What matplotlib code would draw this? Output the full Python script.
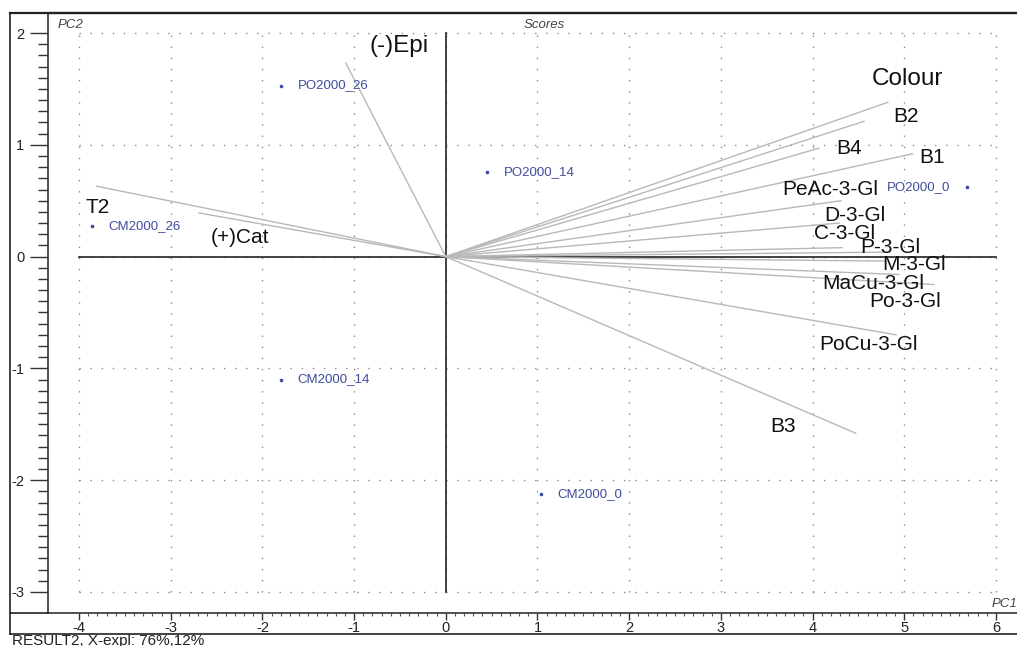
import matplotlib
matplotlib.use("Agg")
import matplotlib.pyplot as plt
from matplotlib.lines import Line2D
import numpy as np

plt.rcParams["font.family"] = ["Liberation Sans", "DejaVu Sans"]
plt.rcParams["axes.unicode_minus"] = False

# sample scores (PC1, PC2)
samples = ["PO2000_26", "PO2000_14", "PO2000_0", "CM2000_26", "CM2000_14", "CM2000_0"]
score_pc1 = [-1.80, 0.45, 5.68, -3.86, -1.80, 1.04]
score_pc2 = [1.53, 0.76, 0.62, 0.27, -1.10, -2.12]

# variable loadings, scaled to the score plane
variables = ["Colour", "B2", "B4", "B1", "PeAc-3-Gl", "D-3-Gl", "C-3-Gl", "P-3-Gl",
             "M-3-Gl", "MaCu-3-Gl", "Po-3-Gl", "PoCu-3-Gl", "B3",
             "(-)Epi", "T2", "(+)Cat"]
load_pc1 = [4.82, 4.56, 4.07, 5.09, 4.31, 4.29, 4.32, 4.80,
            4.80, 5.32, 4.94, 4.91, 4.47, -1.09, -3.81, -2.69]
load_pc2 = [1.38, 1.21, 0.97, 0.92, 0.50, 0.30, 0.08, 0.04,
            -0.04, -0.25, -0.16, -0.70, -1.58, 1.73, 0.63, 0.39]
# where each variable name sits
label_x = [5.03, 5.02, 4.40, 5.30, 4.19, 4.46, 4.35, 4.85,
           5.11, 4.66, 5.01, 4.61, 3.68, -0.51, -3.80, -2.24]
label_y = [1.59, 1.25, 0.97, 0.89, 0.60, 0.37, 0.21, 0.08,
           -0.07, -0.24, -0.40, -0.79, -1.52, 1.88, 0.44, 0.17]
big_labels = {"Colour", "(-)Epi"}

xticks = [-4, -3, -2, -1, 0, 1, 2, 3, 4, 5, 6]
yticks = [-3, -2, -1, 0, 1, 2]

fig = plt.figure(figsize=(10.17, 6.46), dpi=100)
W, H = 1017, 646
ax = fig.add_axes([48 / W, (H - 613) / H, (W - 48) / W, 600 / H])
ax.set_xlim(-4.338, 6.229)
ax.set_ylim(-3.188, 2.179)

ax.spines["right"].set_visible(False)
for s in ["left", "top", "bottom"]:
    ax.spines[s].set_color("#333333")
    ax.spines[s].set_linewidth(1.2)
ax.spines["top"].set_linewidth(1.6)

# dotted grid inside the tick range only
dots = (0, (1, 7))
ax.vlines(xticks, yticks[0], yticks[-1], colors="#8a8a8a", linestyles=[dots], linewidth=1)
ax.hlines(yticks, xticks[0], xticks[-1], colors="#8a8a8a", linestyles=[dots], linewidth=1)

# zero axes
ax.plot([xticks[0], xticks[-1]], [0, 0], color="#333333", lw=1.3)
ax.plot([0, 0], [yticks[0], yticks[-1]], color="#333333", lw=1.3)

# loading vectors
for vx, vy in zip(load_pc1, load_pc2):
    ax.plot([0, vx], [0, vy], color="#b8b8b8", lw=1.0)
for name, lx, ly in zip(variables, label_x, label_y):
    ax.text(lx, ly, name, fontsize=17.5 if name in big_labels else 15,
            color="#111111", ha="center", va="center")

# sample scores
blue = "#3f4c9e"
ax.scatter(score_pc1, score_pc2, s=2.5, color=blue, zorder=5)
for name, sx, sy in zip(samples, score_pc1, score_pc2):
    if sx > 5:
        ax.annotate(name, (sx, sy), xytext=(-12, 0), textcoords="offset points",
                    ha="right", va="center", fontsize=9.5, color=blue)
    else:
        ax.annotate(name, (sx, sy), xytext=(12, 0), textcoords="offset points",
                    ha="left", va="center", fontsize=9.5, color=blue)

# ticks
ax.set_xticks(xticks)
ax.set_yticks(yticks)
ax.set_xticks(np.round(np.arange(xticks[0], xticks[-1] + 0.01, 0.1), 2), minor=True)
ax.set_yticks(np.round(np.arange(yticks[0], yticks[-1] + 0.01, 0.1), 2), minor=True)
ax.tick_params(axis="y", which="major", direction="out", length=13, width=1,
               color="#333333", labelsize=10.5, labelcolor="#222222", pad=4)
ax.tick_params(axis="y", which="minor", direction="out", length=7, width=1, color="#333333")
ax.tick_params(axis="x", which="major", direction="out", length=5, width=1,
               color="#333333", labelsize=10.5, labelcolor="#222222", pad=1)
ax.tick_params(axis="x", which="minor", direction="out", length=2.5, width=0.8, color="#555555")

ax.text(0.01, 0.99, "PC2", transform=ax.transAxes, fontsize=9.5, style="italic",
        color="#444444", ha="left", va="top")
ax.text(0.512, 0.99, "Scores", transform=ax.transAxes, fontsize=9.5, style="italic",
        color="#444444", ha="center", va="top")
ax.text(1.0, 0.005, "PC1", transform=ax.transAxes, fontsize=9.5, style="italic",
        color="#444444", ha="right", va="bottom")

# outer frame
def fig_line(x0, y0, x1, y1, lw=1.2):
    fig.add_artist(Line2D([x0 / W, x1 / W], [1 - y0 / H, 1 - y1 / H],
                          color="#222222", lw=lw, transform=fig.transFigure))

fig_line(10, 13, W, 13, 1.6)
fig_line(10, 13, 10, 634)
fig_line(10, 634, W, 634)
fig_line(10, 613, 48, 613)

fig.text(12 / W, 1 - 640.5 / H, "RESULT2, X-expl: 76%,12%", fontsize=11,
         color="#222222", ha="left", va="center")

fig.savefig("out.png", dpi=100)
